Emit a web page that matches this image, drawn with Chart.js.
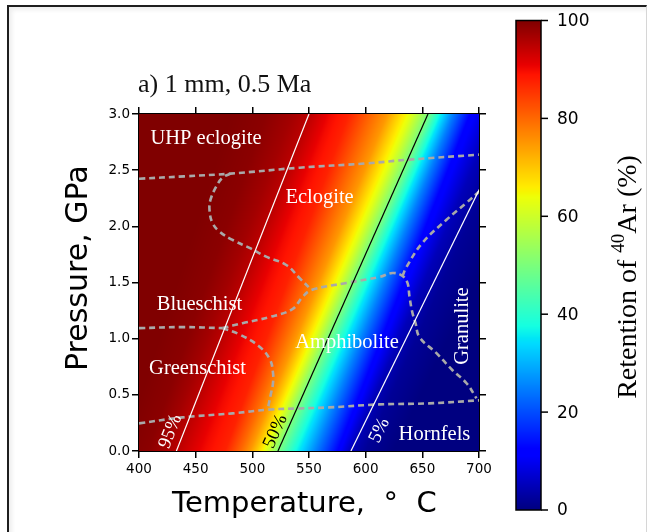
<!DOCTYPE html>
<html>
<head>
<meta charset="utf-8">
<title>Retention of 40Ar</title>
<script src="https://cdn.jsdelivr.net/npm/chart.js@4.4.0/dist/chart.umd.min.js"></script>
<style>
  html, body { margin: 0; padding: 0; background: #fff; overflow: hidden; }
  #box { position: relative; width: 648px; height: 532px; }
  #frame { position: absolute; left: 7px; top: 5px; width: 637px; height: 560px;
           border-top: 2px solid #1e1e1e; border-left: 2px solid #1e1e1e; border-right: 1px solid #d6d6d6;
           box-shadow: inset 3px 3px 4px rgba(0,0,0,0.07); }
  #chart { position: absolute; left: 0; top: 0; }
</style>
</head>
<body>
<div id="box">
  <div id="frame"></div>
  <canvas id="chart" width="648" height="532"></canvas>
</div>
<script>
// axis ticks
const tempTicks = [400, 450, 500, 550, 600, 650, 700];
const pressTicks = [0, 0.5, 1, 1.5, 2, 2.5, 3];
const cbTicks = [0, 20, 40, 60, 80, 100];

// retention isolines: level (%), T (°C) at 0 GPa and at 3 GPa
const isoLevels = [100, 99, 97, 95, 90, 87.5, 80, 75, 70, 62.5, 50, 37.5, 25, 12.5, 5, 2, 0];
const isoT0 =     [385, 408, 422, 433, 458, 476, 490, 498, 504, 512, 522.6, 538, 556, 575, 587, 600, 625];
const isoT3 =     [480, 512, 535, 550, 570, 585, 605, 619, 627, 640, 655, 665, 677, 692, 715, 735, 770];

// contour lines [T, P]
const line95 = [[433, 0], [550, 3]];
const line50 = [[522.6, 0], [655, 3]];
const line5 = [[587, 0], [733, 3]];

// facies boundaries [T, P]
const uhpBoundary = [[400, 2.424], [440, 2.445], [480.7, 2.469], [541.6, 2.522], [600, 2.56], [638.7, 2.594], [700, 2.638]];
const eclogiteBoundary = [[480.7, 2.469], [473.7, 2.433], [468.1, 2.353], [463.1, 2.237], [462.2, 2.147], [464.8, 2.031],
  [471, 1.954], [482.5, 1.879], [497.5, 1.808], [512.2, 1.73], [529.9, 1.656], [541.6, 1.54], [552.2, 1.433]];
const blueGreenBoundary = [[400, 1.094], [438.4, 1.103], [473.7, 1.094]];
const amphiboliteTop = [[473.7, 1.094], [491.3, 1.138], [515.1, 1.192], [535.4, 1.263], [544.3, 1.371], [552.2, 1.433],
  [583.1, 1.496], [612.2, 1.549], [623.7, 1.585], [632.5, 1.558], [636.9, 1.496], [638.7, 1.371], [641.3, 1.228],
  [644, 1.138], [647.5, 1.013], [662.5, 0.871], [676.6, 0.719], [689, 0.603], [697.8, 0.469]];
const granuliteBoundary = [[632.5, 1.558], [636, 1.638], [650.1, 1.853], [671.3, 2.058], [689, 2.21], [700, 2.308]];
const greenAmphBoundary = [[473.7, 1.094], [488.2, 1.04], [505.8, 0.933], [515.5, 0.815], [518.2, 0.7], [518.2, 0.6],
  [516.4, 0.51], [514.6, 0.42], [513.7, 0.37]];
const hornfelsBoundary = [[400, 0.246], [438.4, 0.299], [482.5, 0.335], [513.7, 0.368], [541.6, 0.379], [568.1, 0.388],
  [612.2, 0.415], [656.3, 0.424], [700, 0.451]];

const faciesLabels = [
  { text: 'UHP eclogite', t: 459.1, p: 2.737 },
  { text: 'Eclogite', t: 559.3, p: 2.21 },
  { text: 'Blueschist', t: 453.4, p: 1.254 },
  { text: 'Greenschist', t: 451.6, p: 0.689 },
  { text: 'Amphibolite', t: 583.5, p: 0.921 },
  { text: 'Hornfels', t: 660.7, p: 0.094 },
  { text: 'Granulite', t: 685.4, p: 1.112, vertical: true }
];
const contourLabels = [
  { text: '95%', t: 427.8, p: 0.174, line: line95, color: '#fff' },
  { text: '50%', t: 520.4, p: 0.174, line: line50, color: '#000' },
  { text: '5%', t: 612.2, p: 0.183, line: line5, color: '#fff' }
];

// matplotlib jet
const jetR = [[0, 0], [0.35, 0], [0.66, 1], [0.89, 1], [1, 0.5]];
const jetG = [[0, 0], [0.125, 0], [0.375, 1], [0.64, 1], [0.91, 0], [1, 0]];
const jetB = [[0, 0.5], [0.11, 1], [0.34, 1], [0.65, 0], [1, 0]];
function seg(v, pts) {
  for (let i = 1; i < pts.length; i++) {
    if (v <= pts[i][0]) {
      const [x0, y0] = pts[i - 1], [x1, y1] = pts[i];
      return y0 + (y1 - y0) * (v - x0) / (x1 - x0);
    }
  }
  return pts[pts.length - 1][1];
}
function jet(v) {
  v = Math.max(0, Math.min(1, v));
  return [seg(v, jetR) * 255, seg(v, jetG) * 255, seg(v, jetB) * 255];
}

function retention(t, isoT) {
  if (t <= isoT[0]) return isoLevels[0];
  for (let k = 1; k < isoT.length; k++) {
    if (t <= isoT[k]) {
      const f = (t - isoT[k - 1]) / (isoT[k] - isoT[k - 1]);
      return isoLevels[k - 1] + f * (isoLevels[k] - isoLevels[k - 1]);
    }
  }
  return isoLevels[isoLevels.length - 1];
}

const fieldPlugin = {
  id: 'field',
  beforeDatasetsDraw(chart) {
    const { ctx, chartArea: a, scales: { x, y } } = chart;
    const w = Math.round(a.right - a.left), h = Math.round(a.bottom - a.top);
    const off = document.createElement('canvas');
    off.width = w; off.height = h;
    const octx = off.getContext('2d');
    const img = octx.createImageData(w, h);
    for (let j = 0; j < h; j++) {
      const p = y.getValueForPixel(a.top + j + 0.5);
      const isoT = isoT0.map((t0, k) => t0 + (isoT3[k] - t0) * p / 3);
      for (let i = 0; i < w; i++) {
        const t = x.getValueForPixel(a.left + i + 0.5);
        const c = jet(retention(t, isoT) / 100);
        const o = (j * w + i) * 4;
        img.data[o] = c[0]; img.data[o + 1] = c[1]; img.data[o + 2] = c[2]; img.data[o + 3] = 255;
      }
    }
    octx.putImageData(img, 0, 0);
    ctx.drawImage(off, a.left, a.top);
  }
};

const textPlugin = {
  id: 'texts',
  afterDatasetsDraw(chart) {
    const { ctx, scales: { x, y } } = chart;
    ctx.save();
    ctx.font = '20.5px "Liberation Serif"';
    ctx.fillStyle = '#fff';
    faciesLabels.forEach(l => {
      const px = x.getPixelForValue(l.t), py = y.getPixelForValue(l.p);
      ctx.save();
      ctx.translate(px, py);
      if (l.vertical) {
        ctx.rotate(-Math.PI / 2);
        ctx.textBaseline = 'middle';
      } else {
        ctx.textBaseline = 'alphabetic';
      }
      ctx.textAlign = 'center';
      ctx.fillText(l.text, 0, 0);
      ctx.restore();
    });
    ctx.font = '19px "Liberation Serif"';
    contourLabels.forEach(l => {
      const [a, b] = l.line;
      const ang = Math.atan2(y.getPixelForValue(b[1]) - y.getPixelForValue(a[1]),
                             x.getPixelForValue(b[0]) - x.getPixelForValue(a[0]));
      ctx.save();
      ctx.translate(x.getPixelForValue(l.t), y.getPixelForValue(l.p));
      ctx.rotate(ang);
      ctx.fillStyle = l.color;
      ctx.textAlign = 'center';
      ctx.textBaseline = 'middle';
      ctx.fillText(l.text, 0, 0);
      ctx.restore();
    });
    ctx.restore();
  },
  afterDraw(chart) {
    const ctx = chart.ctx;
    ctx.save();
    // panel title
    ctx.fillStyle = '#111';
    ctx.font = '26px "Liberation Serif"';
    ctx.textAlign = 'left';
    ctx.textBaseline = 'alphabetic';
    ctx.fillText('a) 1 mm, 0.5 Ma', 138, 92);

    // colour bar
    const cb = { left: 516, right: 541, top: 20.5, bottom: 510 };
    for (let py = Math.floor(cb.top); py < cb.bottom; py++) {
      const v = (cb.bottom - (py + 0.5)) / (cb.bottom - cb.top);
      const c = jet(v);
      ctx.fillStyle = `rgb(${c[0] | 0},${c[1] | 0},${c[2] | 0})`;
      ctx.fillRect(cb.left, py, cb.right - cb.left, 1);
    }
    ctx.strokeStyle = '#000';
    ctx.lineWidth = 1.5;
    ctx.strokeRect(cb.left, cb.top, cb.right - cb.left, cb.bottom - cb.top);
    ctx.font = '17px "DejaVu Sans"';
    ctx.fillStyle = '#000';
    ctx.textBaseline = 'middle';
    cbTicks.forEach(v => {
      const py = cb.bottom - (v / 100) * (cb.bottom - cb.top);
      ctx.beginPath();
      ctx.moveTo(cb.right, py);
      ctx.lineTo(cb.right + 7, py);
      ctx.stroke();
      ctx.fillText(String(v), 557, py + 1);
    });

    // colour bar label with superscript
    const big = '28px "Liberation Serif"', small = '19px "Liberation Serif"';
    const parts = [['Retention of ', big, 0], ['40', small, -12], ['Ar (%)', big, 0]];
    let total = 0;
    parts.forEach(pt => { ctx.font = pt[1]; total += ctx.measureText(pt[0]).width; });
    ctx.translate(636, 277);
    ctx.rotate(-Math.PI / 2);
    ctx.textBaseline = 'alphabetic';
    let cx = -total / 2;
    parts.forEach(pt => {
      ctx.font = pt[1];
      ctx.fillText(pt[0], cx, pt[2]);
      cx += ctx.measureText(pt[0]).width;
    });
    ctx.restore();
  }
};

function toPoints(arr) {
  return arr.map(([t, p]) => ({ x: t, y: p }));
}

const boundaries = [uhpBoundary, eclogiteBoundary, blueGreenBoundary, amphiboliteTop,
  granuliteBoundary, greenAmphBoundary, hornfelsBoundary];

const datasets = [
  { data: toPoints(line95), borderColor: '#ffffff', borderWidth: 1.2, tension: 0 },
  { data: toPoints(line50), borderColor: '#000000', borderWidth: 1.2, tension: 0 },
  { data: toPoints(line5), borderColor: '#ffffff', borderWidth: 1.2, tension: 0 }
].concat(boundaries.map(b => ({
  data: toPoints(b), borderColor: '#a9a9a9', borderWidth: 2.6, borderDash: [6, 4], tension: 0.4
}))).map(d => Object.assign({ showLine: true, pointRadius: 0, fill: false, xAxisID: 'x', yAxisID: 'y' }, d));

const tickFont = { family: 'DejaVu Sans', size: 13.5 };
const gridOpts = { drawOnChartArea: false, drawTicks: true, tickLength: 7, color: '#000', lineWidth: 1.5 };
const borderOpts = { display: true, color: '#000', width: 2 };

new Chart(document.getElementById('chart').getContext('2d'), {
  type: 'scatter',
  data: { datasets: datasets },
  plugins: [fieldPlugin, textPlugin],
  options: {
    responsive: false,
    animation: false,
    layout: { padding: 0 },
    plugins: { legend: { display: false }, tooltip: { enabled: false }, title: { display: false } },
    scales: {
      x: {
        type: 'linear', position: 'bottom', min: 400, max: 700, z: 1,
        afterBuildTicks: s => { s.ticks = tempTicks.map(v => ({ value: v })); },
        afterFit: s => { s.height = 81; },
        grid: gridOpts, border: borderOpts,
        ticks: { color: '#000', font: tickFont, padding: 3, maxRotation: 0, callback: v => String(v) },
        title: { display: true, text: 'Temperature,  °  C ', color: '#000',
                 font: { family: 'DejaVu Sans', size: 29, lineHeight: 1.2 }, padding: { top: 0, bottom: 10 } }
      },
      x2: {
        type: 'linear', position: 'top', min: 400, max: 700, z: 1,
        afterBuildTicks: s => { s.ticks = tempTicks.map(v => ({ value: v })); },
        afterFit: s => { s.height = 114; },
        grid: gridOpts, border: borderOpts,
        ticks: { display: false }
      },
      y: {
        type: 'linear', position: 'left', min: 0, max: 3, z: 1,
        afterBuildTicks: s => { s.ticks = pressTicks.map(v => ({ value: v })); },
        afterFit: s => { s.width = 139; },
        grid: gridOpts, border: borderOpts,
        ticks: { color: '#000', font: tickFont, padding: 2, callback: v => v.toFixed(1) },
        title: { display: true, text: '   Pressure, GPa', color: '#000',
                 font: { family: 'DejaVu Sans', size: 30, lineHeight: 1.2 }, padding: { top: 61, bottom: 0 } }
      },
      y2: {
        type: 'linear', position: 'right', min: 0, max: 3, z: 1,
        afterBuildTicks: s => { s.ticks = pressTicks.map(v => ({ value: v })); },
        afterFit: s => { s.width = 169; },
        grid: gridOpts, border: borderOpts,
        ticks: { display: false }
      }
    }
  }
});
</script>
</body>
</html>
